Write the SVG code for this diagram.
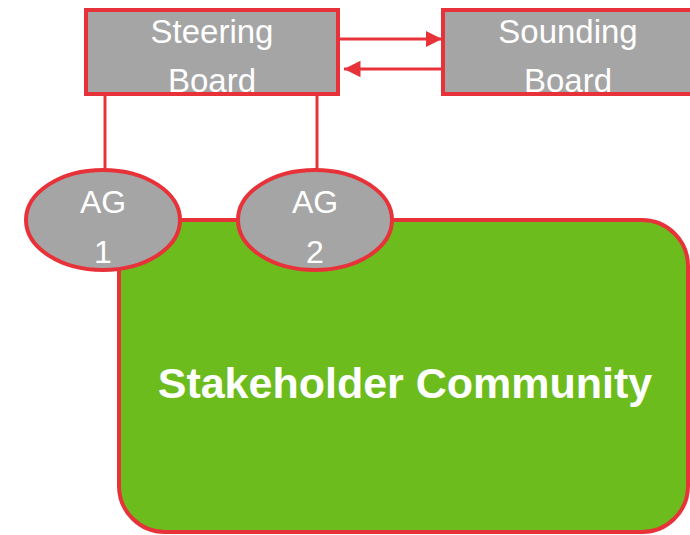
<svg xmlns="http://www.w3.org/2000/svg" width="690" height="535" viewBox="0 0 690 535">
<style>
.box{fill:#a5a5a5;stroke:#e8323a;stroke-width:4}
.lbl{fill:#ffffff;font-family:"Liberation Sans",Arial,sans-serif;font-size:33px;text-anchor:middle}
.ag{fill:#ffffff;font-family:"Liberation Sans",Arial,sans-serif;font-size:32px;text-anchor:middle}
.ln{stroke:#e8323a;stroke-width:3;fill:none}
</style>
<defs>
<marker id="ah" viewBox="0 0 10 10" refX="10" refY="5" markerWidth="5.5" markerHeight="5.5" orient="auto" markerUnits="strokeWidth">
<path d="M0,0 L10,5 L0,10 z" fill="#e8323a"/>
</marker>
</defs>
<rect width="690" height="535" fill="#ffffff"/>
<g id="community">
<rect x="119" y="220" width="569" height="312" rx="46" ry="46" fill="#6dbc1e" stroke="#e8323a" stroke-width="4"/>
<text x="405" y="398" fill="#ffffff" font-family="'Liberation Sans',Arial,sans-serif" font-size="43" font-weight="bold" text-anchor="middle">Stakeholder Community</text>
</g>
<g id="connectors">
<line class="ln" x1="105" y1="94" x2="105" y2="172"/>
<line class="ln" x1="317" y1="94" x2="317" y2="172"/>
<line class="ln" x1="339" y1="39" x2="442" y2="39" marker-end="url(#ah)"/>
<line class="ln" x1="443" y1="69" x2="344" y2="69" marker-end="url(#ah)"/>
</g>
<g id="steering">
<rect class="box" x="86" y="10" width="252" height="84"/>
<text class="lbl" x="212" y="43">Steering</text>
<text class="lbl" x="212" y="92">Board</text>
</g>
<g id="sounding">
<rect class="box" x="443" y="10" width="250" height="84"/>
<text class="lbl" x="568" y="43">Sounding</text>
<text class="lbl" x="568" y="92">Board</text>
</g>
<g id="ag1">
<ellipse class="box" cx="103" cy="220" rx="77" ry="50"/>
<text class="ag" x="103" y="213">AG</text>
<text class="ag" x="103" y="263">1</text>
</g>
<g id="ag2">
<ellipse class="box" cx="315" cy="220" rx="77" ry="50"/>
<text class="ag" x="315" y="213">AG</text>
<text class="ag" x="315" y="263">2</text>
</g>
</svg>
